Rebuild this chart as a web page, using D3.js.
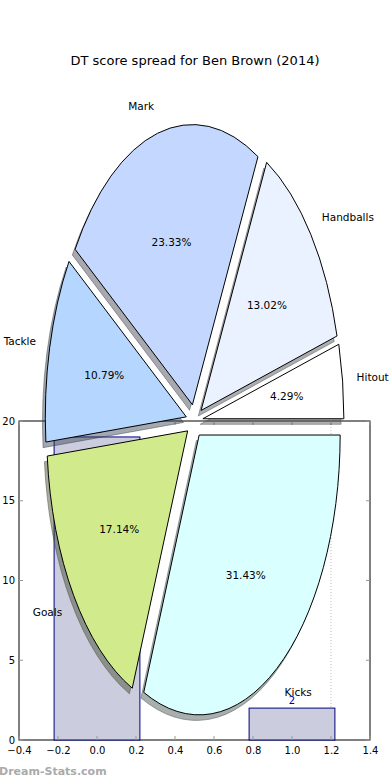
<!DOCTYPE html>
<html>
<head>
<meta charset="utf-8">
<script src="https://cdn.jsdelivr.net/npm/d3@7"></script>
<style>
  body { margin: 0; background: #fff; }
  text { font-family: "DejaVu Sans", sans-serif; }
</style>
</head>
<body>
<div id="chart"></div>
<script>
// pie data (matplotlib order: counter-clockwise from 3 o'clock)
var sliceLabels = ["Hitout", "Handballs", "Mark", "Tackle", "Goals", "Kicks"];
var slicePcts = [4.29, 13.02, 23.33, 10.79, 17.14, 31.43];
var sliceColors = ["#ffffff", "#ebf2ff", "#c4d8ff", "#b4d6ff", "#d1eb8c", "#d9ffff"];

// bar data behind the pie
var barX = [0, 1];
var barValues = [19, 2];

var xTicks = [-0.4, -0.2, 0.0, 0.2, 0.4, 0.6, 0.8, 1.0, 1.2, 1.4];
var yTicks = [0, 5, 10, 15, 20];

(function autoexecute() {
  var W = 390, H = 780;
  var margin = {top: 421, right: 20, bottom: 40, left: 19},
    width = W - margin.left - margin.right,
    height = H - margin.top - margin.bottom;

  var svg = d3.select("#chart")
    .append("svg")
      .attr("width", W)
      .attr("height", H);

  // title
  svg.append("text")
    .attr("x", 195)
    .attr("y", 65)
    .attr("text-anchor", "middle")
    .style("font-size", "13px")
    .text("DT score spread for Ben Brown (2014)");

  var g = svg.append("g")
    .attr("transform", "translate(" + margin.left + "," + margin.top + ")");

  var x = d3.scaleLinear().domain([-0.4, 1.4]).range([0, width]);
  var y = d3.scaleLinear().domain([0, 20]).range([height, 0]);

  // frame
  g.append("rect")
    .attr("width", width)
    .attr("height", height)
    .attr("fill", "none")
    .attr("stroke", "#000")
    .attr("stroke-width", 1);

  // dotted line at 1.2
  g.append("line")
    .attr("x1", x(1.2)).attr("x2", x(1.2))
    .attr("y1", 0).attr("y2", height)
    .attr("stroke", "#bbb")
    .attr("stroke-dasharray", "1,2");

  // bars
  var bw = 0.44;
  g.selectAll(".bar")
    .data(barValues)
    .join("rect")
      .attr("class", "bar")
      .attr("x", function(d, i) { return x(barX[i] - bw / 2); })
      .attr("width", function() { return x(bw) - x(0); })
      .attr("y", function(d) { return y(d); })
      .attr("height", function(d) { return height - y(d); })
      .attr("fill", "#ccccdf")
      .attr("stroke", "#000080")
      .attr("stroke-width", 1);

  g.selectAll(".barlabel")
    .data(barValues)
    .join("text")
      .attr("class", "barlabel")
      .attr("x", function(d, i) { return x(barX[i]); })
      .attr("y", function(d) { return y(d) - 4; })
      .attr("text-anchor", "middle")
      .attr("fill", "#0000aa")
      .style("font-size", "10px")
      .text(function(d) { return d; });

  // axes, inward ticks like matplotlib classic
  var xAxis = d3.axisBottom(x).tickValues(xTicks).tickSize(0).tickPadding(7)
    .tickFormat(function(d) { return d3.format(".1f")(d).replace("-", "\u2212"); });
  var gx = g.append("g").attr("transform", "translate(0," + height + ")").call(xAxis);
  gx.select(".domain").remove();
  gx.selectAll("text").style("font-size", "10px").style("font-family", "DejaVu Sans").attr("fill", "#000");

  var yAxis = d3.axisLeft(y).tickValues(yTicks).tickSize(0).tickPadding(4);
  var gy = g.append("g").call(yAxis);
  gy.select(".domain").remove();
  gy.selectAll("text").style("font-size", "10px").style("font-family", "DejaVu Sans").attr("fill", "#000");

  var tk = 4;
  xTicks.forEach(function(t) {
    g.append("line").attr("x1", x(t)).attr("x2", x(t)).attr("y1", height).attr("y2", height - tk).attr("stroke", "#999");
    g.append("line").attr("x1", x(t)).attr("x2", x(t)).attr("y1", 0).attr("y2", tk).attr("stroke", "#999");
  });
  yTicks.forEach(function(t) {
    g.append("line").attr("x1", 0).attr("x2", tk).attr("y1", y(t)).attr("y2", y(t)).attr("stroke", "#999");
    g.append("line").attr("x1", width).attr("x2", width - tk).attr("y1", y(t)).attr("y2", y(t)).attr("stroke", "#999");
  });

  // exploded elliptical pie on top
  var cx = 194.5, cy = 421, rx = 141, ry = 280, explode = 0.06;

  var pie = d3.pie().sort(null)
    .startAngle(Math.PI / 2)
    .endAngle(Math.PI / 2 - 2 * Math.PI);
  var arcs = pie(slicePcts);
  var arc = d3.arc().innerRadius(0).outerRadius(1);

  arcs.forEach(function(a, i) {
    // mid angle in math convention
    var m = Math.PI / 2 - (a.startAngle + a.endAngle) / 2;
    a.m = m;
    a.ox = cx + explode * rx * Math.cos(m);
    a.oy = cy - explode * ry * Math.sin(m);
    a.color = sliceColors[i];
  });

  var pg = svg.append("g");

  // shadows
  pg.selectAll(".shadow")
    .data(arcs)
    .join("path")
      .attr("class", "shadow")
      .attr("d", arc)
      .attr("transform", function(d) {
        return "translate(" + (d.ox - 0.02 * rx) + "," + (d.oy + 0.02 * ry) + ") scale(" + rx + "," + ry + ")";
      })
      .attr("fill", function(d) { var c = d3.rgb(d.color); return d3.rgb(c.r * 0.3, c.g * 0.3, c.b * 0.3); })
      .attr("fill-opacity", 0.45)
      .attr("stroke", function(d) { var c = d3.rgb(d.color); return d3.rgb(c.r * 0.3, c.g * 0.3, c.b * 0.3); })
      .attr("stroke-opacity", 0.45)
      .attr("vector-effect", "non-scaling-stroke");

  pg.selectAll(".wedge")
    .data(arcs)
    .join("path")
      .attr("class", "wedge")
      .attr("d", arc)
      .attr("transform", function(d) {
        return "translate(" + d.ox + "," + d.oy + ") scale(" + rx + "," + ry + ")";
      })
      .attr("fill", function(d) { return d.color; })
      .attr("stroke", "#000")
      .attr("stroke-width", 1)
      .attr("vector-effect", "non-scaling-stroke");

  pg.selectAll(".label")
    .data(arcs)
    .join("text")
      .attr("class", "label")
      .attr("x", function(d) { return d.ox + 1.1 * rx * Math.cos(d.m); })
      .attr("y", function(d) { return d.oy - 1.1 * ry * Math.sin(d.m); })
      .attr("dy", "0.35em")
      .attr("text-anchor", function(d) { return Math.cos(d.m) < 0 ? "end" : "start"; })
      .style("font-size", "10.5px")
      .text(function(d, i) { return sliceLabels[i]; });

  pg.selectAll(".pct")
    .data(arcs)
    .join("text")
      .attr("class", "pct")
      .attr("x", function(d) { return d.ox + 0.6 * rx * Math.cos(d.m); })
      .attr("y", function(d) { return d.oy - 0.6 * ry * Math.sin(d.m); })
      .attr("dy", "0.35em")
      .attr("text-anchor", "middle")
      .style("font-size", "10.5px")
      .text(function(d, i) { return slicePcts[i].toFixed(2) + "%"; });

  // watermark
  svg.append("text")
    .attr("x", -1)
    .attr("y", 775)
    .attr("fill", "#aaa")
    .style("font-size", "11px")
    .style("font-weight", "bold")
    .text("Dream-Stats.com");
})();
</script>
</body>
</html>
